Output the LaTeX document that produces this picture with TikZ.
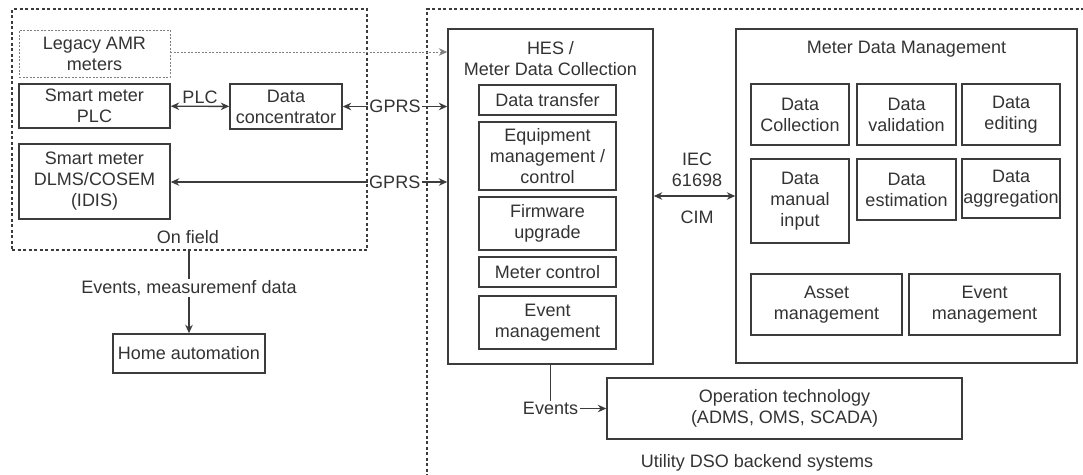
\documentclass[tikz,border=0pt]{standalone}
\usepackage{fontspec}
\setmainfont{Liberation Sans}
\usetikzlibrary{arrows.meta}
\definecolor{lineclr}{HTML}{3C3C3C}
\definecolor{txtclr}{HTML}{333333}
\begin{document}
\begin{tikzpicture}[x=1pt, y=-1pt,
  every node/.style={font=\fontsize{18}{21}\selectfont, text=txtclr, align=center, inner sep=0pt},
  box/.style={draw=lineclr, line width=1.4pt},
  region/.style={draw=lineclr, line width=1.1pt, dash pattern=on 3pt off 2.5pt},
  link/.style={draw=lineclr, line width=1.4pt, -{Stealth[length=8.5pt, width=7.5pt]}},
  dlink/.style={link, {Stealth[length=8.5pt, width=7.5pt]}-{Stealth[length=8.5pt, width=7.5pt]}},
  tag/.style={fill=white, inner sep=1.5pt}]
\useasboundingbox (0,0) rectangle (1083,474);
\node[region, minimum width=355, minimum height=241] (field) at (189.5,129.5){};
\draw[region] (1095,9) -- (427,9) -- (427,490);
\node[box, draw=gray, dash pattern=on 2pt off 1.5pt, line width=0.9pt, minimum width=151, minimum height=47] (legacy) at (94.5,53.5){Legacy AMR\\meters};
\node[box, minimum width=151, minimum height=44] (smplc) at (94.5,106){Smart meter\\PLC};
\node[box, minimum width=112, minimum height=45] (conc) at (286,106.5){Data\\concentrator};
\node[box, minimum width=151, minimum height=75] (dlms) at (94.5,181.5){Smart meter\\DLMS/COSEM\\(IDIS)};
\node (fieldlbl) at (188,237){On field};
\node[box, minimum width=152, minimum height=39] (home) at (189,353.5){Home automation};
\node[box, minimum width=205, minimum height=335] (hes) at (550.5,196.5){};
\node (heslbl) at (550.5,59){HES /\\Meter Data Collection};
\node[box, minimum width=137, minimum height=30] (transfer) at (547.5,100){Data transfer};
\node[box, minimum width=137, minimum height=68] (equip) at (547.5,156){Equipment\\management /\\control};
\node[box, minimum width=137, minimum height=53] (firmware) at (547.5,223.5){Firmware\\upgrade};
\node[box, minimum width=137, minimum height=30] (mctrl) at (547.5,272){Meter control};
\node[box, minimum width=137, minimum height=53] (hesevent) at (547.5,322.5){Event\\management};
\node[box, minimum width=341, minimum height=334] (mdm) at (906.5,196){};
\node (mdmlbl) at (906.5,49){Meter Data Management};
\node[box, minimum width=98, minimum height=61] (collect) at (800,114.5){Data\\Collection};
\node[box, minimum width=99, minimum height=61] (valid) at (906.5,114.5){Data\\validation};
\node[box, minimum width=98, minimum height=61] (edit) at (1011,114.5){Data\\editing};
\node[box, minimum width=98, minimum height=84] (manual) at (800,201){Data\\manual\\input};
\node[box, minimum width=99, minimum height=61] (estim) at (906.5,189.5){Data\\estimation};
\node[box, minimum width=98, minimum height=59] (aggr) at (1011,188.5){Data\\aggregation};
\node[box, minimum width=151, minimum height=61] (asset) at (826.5,304.5){Asset\\management};
\node[box, minimum width=151, minimum height=61] (mdmevent) at (984.5,304.5){Event\\management};
\node[box, minimum width=355, minimum height=61] (optech) at (784.5,408.5){Operation technology\\(ADMS, OMS, SCADA)};
\node (dsolbl) at (757,463){Utility DSO backend systems};
\draw[link, draw=gray, line width=0.9pt, dash pattern=on 2pt off 1.5pt] (legacy.east |- 0,52) -- (hes.west |- 0,52);
\draw[dlink] (smplc) -- node[above=2pt]{PLC} (conc);
\draw[dlink] (conc) -- node[tag, pos=0.5]{GPRS} (conc -| hes.west);
\draw[dlink] (dlms.east |- 0,182) -- node[tag, pos=0.81]{GPRS} (hes.west |- 0,182);
\draw[dlink] (hes.east |- 0,196) -- (mdm.west |- 0,196);
\node (ieclbl) at (697,170){IEC\\61698};
\node (cimlbl) at (697,217){CIM};
\draw[link] (field.south -| home) -- node[tag, pos=0.45]{Events, measuremenf data} (home);
\draw[link] (hes.south) |- node[tag, pos=0.5]{Events} (optech.west);
\end{tikzpicture}
\end{document}
